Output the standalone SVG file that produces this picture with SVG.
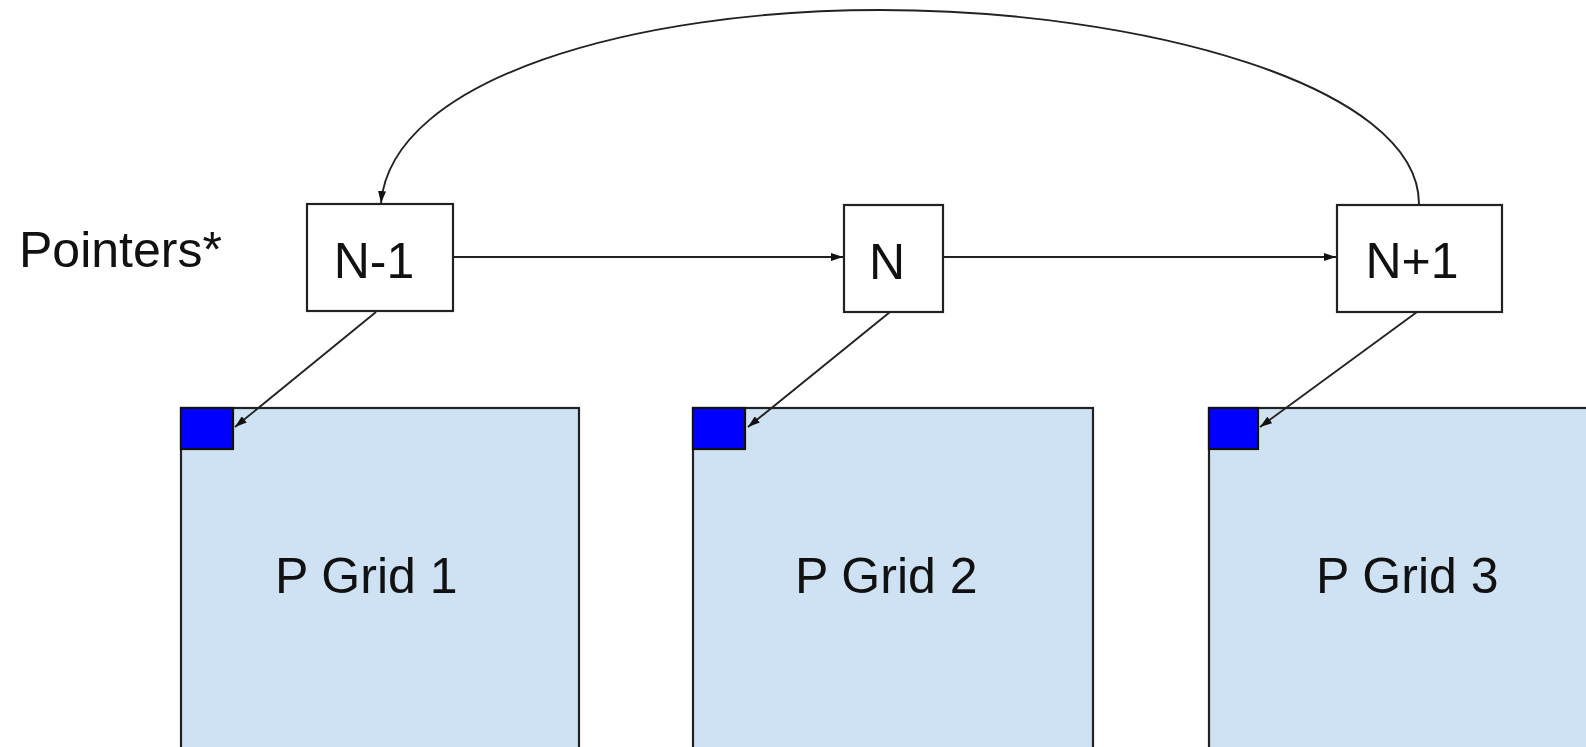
<svg xmlns="http://www.w3.org/2000/svg" width="1586" height="747" viewBox="0 0 1586 747">
<style>
.box{fill:#fff;stroke:#222;stroke-width:2.2}
.grid{fill:#cfe2f3;stroke:#222;stroke-width:2.2}
.sq{fill:#0000ff;stroke:#111;stroke-width:2.2}
.t{font-family:"Liberation Sans",Arial,sans-serif;font-size:50px;fill:#111}
.c{fill:none;stroke:#222;stroke-width:1.9}
</style>
<defs>
<marker id="ah" viewBox="0 0 12 8" refX="12" refY="4" markerWidth="12" markerHeight="8" markerUnits="userSpaceOnUse" orient="auto">
<path d="M0,0 L12,4 L0,8 Z" fill="#111"/>
</marker>
</defs>
<rect width="1586" height="747" fill="#fff"/>
<text id="label-pointers" class="t" x="19" y="267">Pointers*</text>
<g id="grid1"><rect class="grid" x="181" y="408" width="398" height="345"/><rect class="sq" x="181" y="408" width="52" height="41"/><text class="t" x="275" y="593">P Grid 1</text></g>
<g id="grid2"><rect class="grid" x="693" y="408" width="400" height="345"/><rect class="sq" x="693" y="408" width="52" height="41"/><text class="t" x="795" y="593">P Grid 2</text></g>
<g id="grid3"><rect class="grid" x="1209" y="408" width="400" height="345"/><rect class="sq" x="1209" y="408" width="49" height="41"/><text class="t" x="1316" y="593">P Grid 3</text></g>
<g id="n-1"><rect class="box" x="307" y="204" width="146" height="107"/><text class="t" x="374" y="278" text-anchor="middle">N-1</text></g>
<g id="n"><rect class="box" x="844" y="205" width="99" height="107"/><text class="t" x="887" y="279" text-anchor="middle">N</text></g>
<g id="n+1"><rect class="box" x="1337" y="205" width="165" height="107"/><text class="t" x="1412" y="278" text-anchor="middle">N+1</text></g>
<g id="connectors">
<line class="c" x1="453" y1="257" x2="843" y2="257" marker-end="url(#ah)"/>
<line class="c" x1="943" y1="257" x2="1336" y2="257" marker-end="url(#ah)"/>
<line class="c" x1="376" y1="312" x2="235" y2="427" marker-end="url(#ah)"/>
<line class="c" x1="890" y1="312" x2="748" y2="427" marker-end="url(#ah)"/>
<line class="c" x1="1417" y1="312" x2="1260" y2="427" marker-end="url(#ah)"/>
<path class="c" d="M1419,204 C1419,85 1140,10 880,10 C635,10 392,78 381,203" marker-end="url(#ah)"/>
</g>
</svg>
